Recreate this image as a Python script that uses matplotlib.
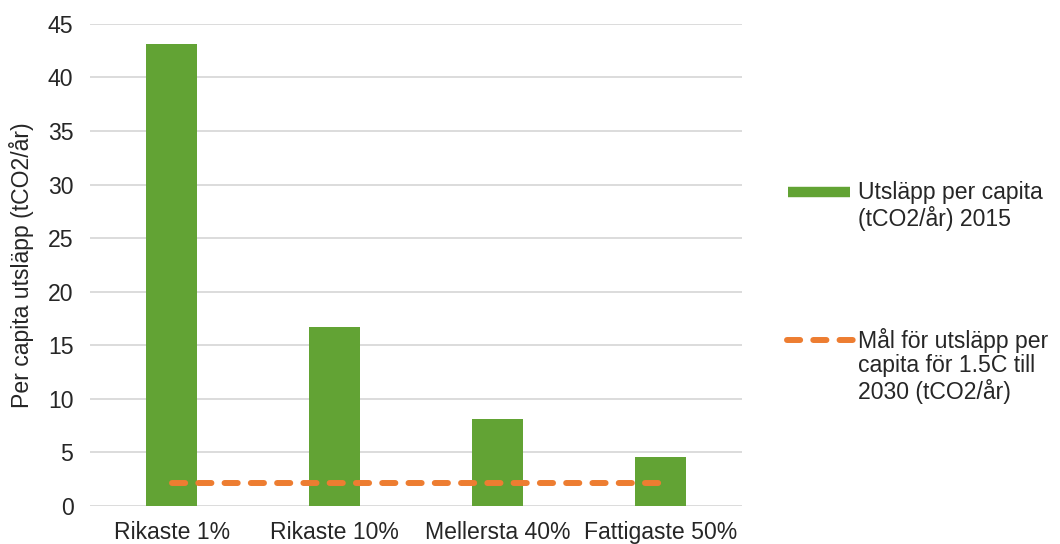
import matplotlib
matplotlib.use("Agg")
from matplotlib import pyplot as plt
from matplotlib.lines import Line2D
import numpy as np

plt.rcParams['font.family'] = ['Liberation Sans', 'DejaVu Sans']

# data
categories = ['Rikaste 1%', 'Rikaste 10%', 'Mellersta 40%', 'Fattigaste 50%']
emissions_2015 = [43.1, 16.7, 8.1, 4.6]
target_2030 = [2.1, 2.1, 2.1, 2.1]

bar_label = 'Utsläpp per capita\n(tCO2/år) 2015'
line_label = 'Mål för utsläpp per\ncapita för 1.5C till\n2030 (tCO2/år)'

green = '#62a334'
orange = '#ed7d31'
text_col = '#262626'
fs = 16.6
W, H = 1060., 544.
dash = (2.2, 2.2)   # round caps add ~1 lw to each dash

fig = plt.figure(figsize=(10.6, 5.44), dpi=100)
ax = fig.add_axes([0.085, 0.07, 0.615, 0.886])

x = np.arange(len(categories))
ax.bar(x, emissions_2015, width=0.31, color=green, zorder=2)
ax.plot(x, target_2030, color=orange, linewidth=4.3, dashes=dash,
        dash_capstyle='round', zorder=3)

ax.set_xlim(-0.5, len(categories) - 0.5)
ax.set_ylim(0, 45)
ax.set_yticks(np.arange(0, 46, 5))
ax.set_xticks(x)
ax.set_xticklabels(categories)

ax.yaxis.grid(True, color='#d9d9d9', linewidth=1.3, zorder=0)
ax.set_axisbelow(True)
for s in ax.spines.values():
    s.set_visible(False)
ax.tick_params(axis='both', length=0, labelsize=fs, colors=text_col)
ax.tick_params(axis='x', pad=11)
ax.tick_params(axis='y', pad=12)
ax.set_ylabel('Per capita utsläpp (tCO2/år)', fontsize=fs, color=text_col, labelpad=10)

# legend drawn by hand: handles line up with the first text line (Excel style)
fig.add_artist(Line2D([788 / W, 850 / W], [1 - 192 / H, 1 - 192 / H],
                      color=green, linewidth=7.5, solid_capstyle='butt',
                      transform=fig.transFigure))
fig.add_artist(Line2D([787 / W, 853 / W], [1 - 340 / H, 1 - 340 / H],
                      color=orange, linewidth=4.3, dashes=dash,
                      dash_capstyle='round', transform=fig.transFigure))
fig.text(858 / W, 1 - 181 / H, bar_label, fontsize=fs, color=text_col,
         va='top', ha='left', linespacing=1.08)
fig.text(858 / W, 1 - 328 / H, line_label, fontsize=fs, color=text_col,
         va='top', ha='left', linespacing=1.08)

fig.savefig('out.png', dpi=100)
